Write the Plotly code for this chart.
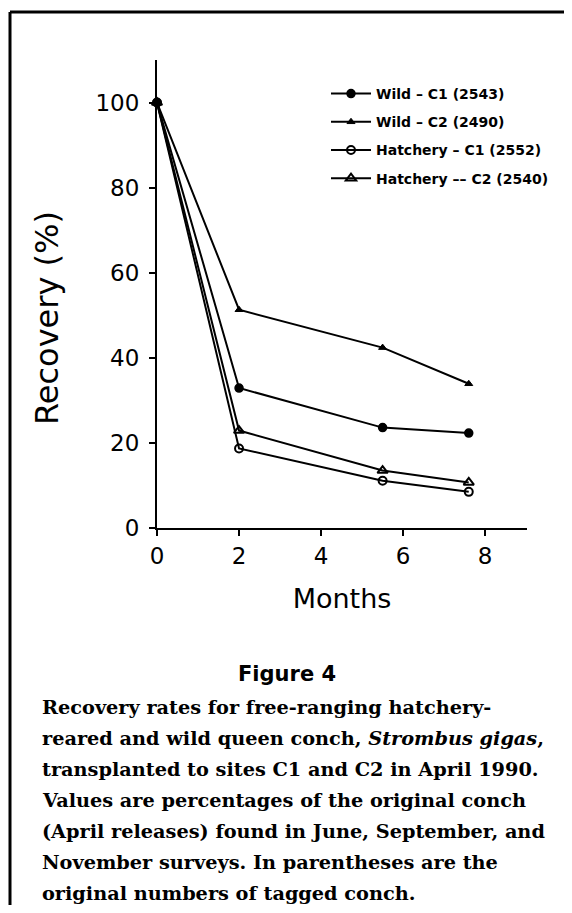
import plotly.graph_objects as go

months = [0, 2, 5.5, 7.6]
wild_c1 = [100, 32.9, 23.6, 22.3]
wild_c2 = [100, 51.3, 42.4, 33.9]
hatch_c1 = [100, 18.7, 11.1, 8.5]
hatch_c2 = [100, 22.9, 13.5, 10.7]
series_names = ["Wild – C1 (2543)", "Wild – C2 (2490)",
                "Hatchery – C1 (2552)", "Hatchery –– C2 (2540)"]
x_ticks = [0, 2, 4, 6, 8]
y_ticks = [0, 20, 40, 60, 80, 100]
x_title = "Months"
y_title = "Recovery (%)"

caption_title = "Figure 4"
caption_lines = [
    "Recovery rates for free-ranging hatchery-",
    "reared and wild queen conch, <i>Strombus gigas</i>,",
    "transplanted to sites C1 and C2 in April 1990.",
    "Values are percentages of the original conch",
    "(April releases) found in June, September, and",
    "November surveys. In parentheses are the",
    "original numbers of tagged conch.",
]

# page body has an 8px margin; work in page pixel coordinates
OFF = 8
W, H = 572 - 2 * OFF, 913 - 2 * OFF
PL, PR, PT, PB = 157, 527, 60, 528          # plot area in page pixels
L, R, T, B = PL - OFF, W - (PR - OFF), PT - OFF, H - (PB - OFF)
PW, PH = W - L - R, H - T - B


def px(x):
    return (x - OFF - L) / PW


def py(y):
    return (H - B - (y - OFF)) / PH


fig = go.Figure()
styles = [
    dict(symbol="circle", size=8, color="black", line=dict(color="black", width=1.5)),
    dict(symbol="triangle-up", size=7, color="black", line=dict(color="black", width=1)),
    dict(symbol="circle-open", size=8, color="black", line=dict(color="black", width=2)),
    dict(symbol="triangle-up-open", size=9, color="black", line=dict(color="black", width=2)),
]
for i, (name, ys) in enumerate(zip(series_names, [wild_c1, wild_c2, hatch_c1, hatch_c2])):
    fig.add_trace(go.Scatter(
        x=months, y=ys, name=name, mode="lines+markers",
        line=dict(color="black", width=2), marker=styles[i],
        legendgroup=f"g{i}", cliponaxis=False,
    ))

SANS = "DejaVu Sans, sans-serif"
tick_font = dict(family=SANS, size=23, color="black")
fig.update_xaxes(range=[0, 9.02], tickvals=x_ticks, ticks="outside", ticklen=6,
                 tickwidth=1.5, tickcolor="black", showline=True, linecolor="black",
                 linewidth=2, showgrid=False, zeroline=False, tickfont=tick_font,
                 title=dict(text=x_title, font=dict(family=SANS, size=27, color="black"), standoff=22))
fig.update_yaxes(range=[0, 110], tickvals=y_ticks, ticks="outside", ticklen=6,
                 tickwidth=1.5, tickcolor="black", showline=True, linecolor="black",
                 linewidth=2, showgrid=False, zeroline=False, tickfont=tick_font,
                 ticklabelstandoff=5)

fig.update_layout(
    width=W, height=H, margin=dict(l=L, r=R, t=T, b=B, autoexpand=False),
    paper_bgcolor="white", plot_bgcolor="white", showlegend=True,
    legend=dict(x=px(326), y=py(78), xanchor="left", yanchor="top",
                font=dict(family=SANS, size=14, color="black", weight="bold"),
                tracegroupgap=7, bgcolor="rgba(0,0,0,0)", itemwidth=40),
)

fig.add_annotation(text=y_title, xref="paper", yref="paper", x=px(47), y=py(318),
                   xanchor="center", yanchor="middle", textangle=-90, showarrow=False,
                   font=dict(family=SANS, size=32, color="black"))

# frame lines
fig.add_shape(type="line", xref="paper", yref="paper", x0=px(10), x1=px(572 - OFF), y0=py(12), y1=py(12),
              line=dict(color="black", width=3))
fig.add_shape(type="line", xref="paper", yref="paper", x0=px(10), x1=px(10), y0=py(12), y1=py(913 - OFF),
              line=dict(color="black", width=3))

fig.add_annotation(text="<b>" + caption_title + "</b>", xref="paper", yref="paper",
                   x=px(287), y=py(674), xanchor="center", yanchor="middle", showarrow=False,
                   font=dict(family=SANS, size=21, color="black"))
for i, line in enumerate(caption_lines):
    fig.add_annotation(text="<b>" + line + "</b>", xref="paper", yref="paper",
                       x=px(40), y=py(707 + i * 31), xanchor="left", yanchor="middle",
                       showarrow=False,
                       font=dict(family="DejaVu Serif, serif", size=19.3, color="black"))

fig.write_html("out.html")
